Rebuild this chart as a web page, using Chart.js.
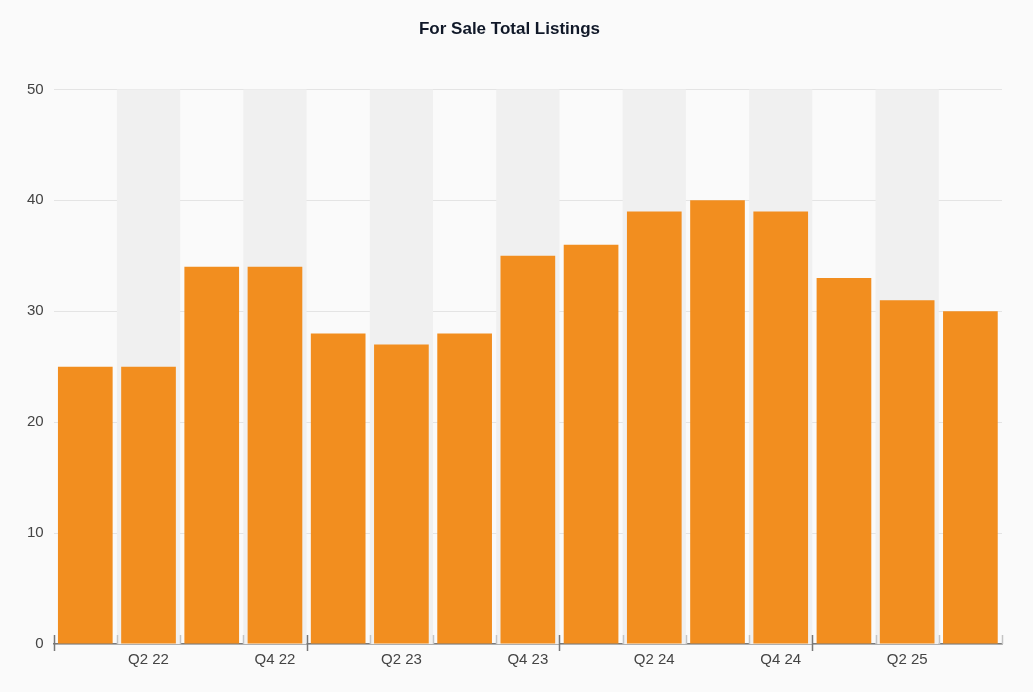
<!DOCTYPE html>
<html>
<head>
<meta charset="utf-8">
<script src="https://cdn.jsdelivr.net/npm/chart.js@4"></script>
<style>
  html, body { margin: 0; padding: 0; background: #fafafa; }
  #wrap { width: 1033px; height: 692px; }
</style>
</head>
<body>
<div id="wrap"><canvas id="listingsChart"></canvas></div>
<script>
const quarters = ["Q1 22", "Q2 22", "Q3 22", "Q4 22", "Q1 23", "Q2 23", "Q3 23", "Q4 23",
                  "Q1 24", "Q2 24", "Q3 24", "Q4 24", "Q1 25", "Q2 25", "Q3 25"];
const listings = [25, 25, 34, 34, 28, 27, 28, 35, 36, 39, 40, 39, 33, 31, 30];
const yTicks = [0, 10, 20, 30, 40, 50];

// shaded bands behind every other quarter + tick marks on the x axis
const bandsAndTicks = {
  id: "bandsAndTicks",
  beforeDatasetsDraw(chart) {
    const ctx = chart.ctx;
    const x = chart.scales.x;
    const area = chart.chartArea;
    const half = (x.getPixelForValue(1) - x.getPixelForValue(0)) / 2;
    ctx.save();
    ctx.fillStyle = "#f0f0f0";
    for (var i = 1; i < quarters.length; i += 2) {
      var c = x.getPixelForValue(i);
      ctx.fillRect(c - half, area.top, half * 2, area.bottom - area.top);
    }
    ctx.restore();
  },
  afterDraw(chart) {
    const ctx = chart.ctx;
    const x = chart.scales.x;
    const area = chart.chartArea;
    const half = (x.getPixelForValue(1) - x.getPixelForValue(0)) / 2;
    ctx.save();
    for (var i = 0; i <= quarters.length; i++) {
      var px = Math.round(x.getPixelForValue(0) - half + i * half * 2) + 0.5;
      var major = i % 4 === 0;
      ctx.strokeStyle = major ? "#777" : "#c4c4c4";
      ctx.lineWidth = 1.5;
      ctx.beginPath();
      ctx.moveTo(px, area.bottom - 9);
      ctx.lineTo(px, area.bottom + (major ? 7 : 0));
      ctx.stroke();
    }
    ctx.restore();
  }
};

new Chart(document.getElementById("listingsChart"), {
  type: "bar",
  data: {
    labels: quarters,
    datasets: [{
      label: "For Sale Total Listings",
      data: listings,
      backgroundColor: "#f28e1f",
      categoryPercentage: 1.0,
      barPercentage: 0.865
    }]
  },
  options: {
    responsive: true,
    maintainAspectRatio: false,
    animation: false,
    layout: { padding: { left: 17, right: 31, top: 0, bottom: 24 } },
    plugins: {
      legend: { display: false },
      tooltip: { enabled: false },
      title: {
        display: true,
        text: "For Sale Total Listings",
        color: "#101828",
        font: { family: "Liberation Sans, Arial, sans-serif", size: 17, weight: "bold" },
        padding: { top: 19, bottom: 50 }
      }
    },
    scales: {
      x: {
        grid: { display: false },
        border: { display: true, color: "#7a7a7a", width: 1.5 },
        ticks: {
          autoSkip: false,
          maxRotation: 0,
          color: "#444",
          padding: -1,
          font: { family: "Liberation Sans, Arial, sans-serif", size: 15 },
          callback: function (val, idx) { return idx % 2 === 1 ? quarters[idx] : ""; }
        }
      },
      y: {
        min: 0,
        max: 50,
        afterBuildTicks: function (axis) { axis.ticks = yTicks.map(function (v) { return { value: v }; }); },
        grid: { color: "#e4e4e4", drawTicks: false },
        border: { display: false },
        ticks: {
          color: "#444",
          padding: 10,
          font: { family: "Liberation Sans, Arial, sans-serif", size: 15 }
        }
      }
    }
  },
  plugins: [bandsAndTicks]
});
</script>
</body>
</html>
